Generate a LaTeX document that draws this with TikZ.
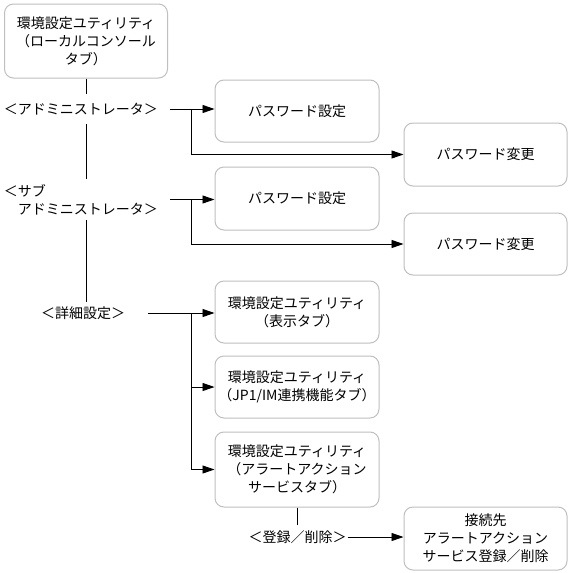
\documentclass[tikz,border=0pt]{standalone}
\usepackage{fontspec}
\setmainfont{Noto Sans CJK JP}
\usetikzlibrary{arrows.meta}
\begin{document}
\begin{tikzpicture}[x=1pt,y=-1pt,
  font=\fontsize{14}{18}\selectfont,
  box/.style={draw=black!25,line width=1pt,rounded corners=9pt,align=center,inner sep=0pt},
  lab/.style={inner ysep=0pt,align=center},
  con/.style={line width=0.9pt,draw=black},
  arr/.style={con,-{Triangle[length=12pt,width=8pt]}}]
\useasboundingbox (0,0) rectangle (571,573);
% boxes
\node[box,minimum width=163pt,minimum height=74pt] (top) at (86,41) {環境設定ユティリティ\\（ローカルコンソール\\タブ）};
\node[box,minimum width=164pt,minimum height=62pt] (pw1) at (297,111) {パスワード設定};
\node[box,minimum width=163pt,minimum height=63pt] (ch1) at (485.5,154.5) {パスワード変更};
\node[box,minimum width=164pt,minimum height=63pt] (pw2) at (297,198.5) {パスワード設定};
\node[box,minimum width=163pt,minimum height=62pt] (ch2) at (485.5,244) {パスワード変更};
\node[box,minimum width=164pt,minimum height=62pt] (disp) at (297,312) {環境設定ユティリティ\\（表示タブ）};
\node[box,minimum width=164pt,minimum height=62pt] (jp1) at (297,387) {環境設定ユティリティ\\（JP1/IM連携機能タブ）};
\node[box,minimum width=164pt,minimum height=75pt] (alert) at (297,469.5) {環境設定ユティリティ\\（アラートアクション\\サービスタブ）};
\node[box,minimum width=163pt,minimum height=63pt] (dest) at (485.5,538.5) {接続先\\アラートアクション\\サービス登録／削除};
% labels
\node[lab,inner xsep=12pt,minimum height=30pt] (adm) at (81,109) {＜アドミニストレータ＞};
\node[lab,align=left,inner xsep=12pt,minimum height=41pt] (sub) at (81,199.5) {＜サブ\\　アドミニストレータ＞};
\node[lab,inner xsep=23pt,minimum height=22pt] (det) at (83,313) {＜詳細設定＞};
\node[lab,inner xsep=1pt,minimum height=24pt] (reg) at (297.5,537) {＜登録／削除＞};
% connectors
\draw[con] (top.south) -- (top.south |- adm.north);
\draw[con] (top.south |- adm.south) -- (top.south |- sub.north);
\draw[con] (top.south |- sub.south) -- (top.south |- det.north);
\draw[con] (alert.south) -- (alert.south |- reg.north);
\draw[arr] (adm.east) -- (adm.east -| pw1.west);
\draw[arr] (adm.east) -- ++(21,0) |- (ch1.west);
\draw[arr] (sub.east) -- (sub.east -| pw2.west);
\draw[arr] (sub.east) -- ++(21,0) |- (ch2.west);
\draw[arr] (det.east) -- (det.east -| disp.west);
\draw[arr] (det.east) -- ++(43,0) |- (jp1.west);
\draw[arr] (det.east) -- ++(43,0) |- (alert.west);
\draw[arr] (reg.east) -- (reg.east -| dest.west);
\end{tikzpicture}
\end{document}
